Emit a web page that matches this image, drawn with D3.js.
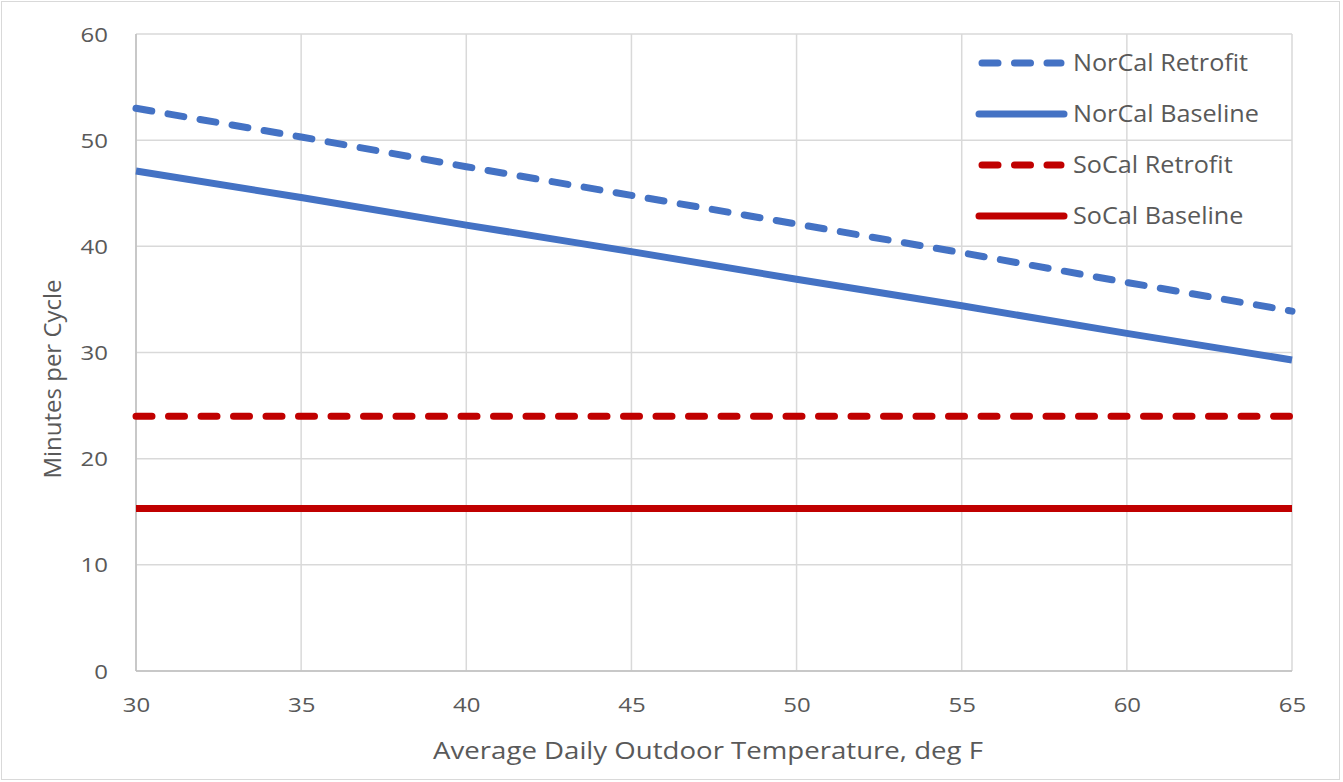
<!DOCTYPE html>
<html><head><meta charset="utf-8">
<script src="https://cdn.jsdelivr.net/npm/d3@7"></script>
<style>body{margin:0;background:#fff;}svg{display:block;font-family:"Open Sans",sans-serif;}</style>
</head><body><svg id="c" width="1343" height="782"></svg>
<script>
const temps = [30, 35, 40, 45, 50, 55, 60, 65];
const norcalRetrofit = [53.0, 50.3, 47.5, 44.8, 42.1, 39.4, 36.6, 33.9];
const norcalBaseline = [47.1, 44.6, 42.0, 39.5, 36.9, 34.4, 31.8, 29.3];
const socalRetrofit = [24.0, 24.0, 24.0, 24.0, 24.0, 24.0, 24.0, 24.0];
const socalBaseline = [15.3, 15.3, 15.3, 15.3, 15.3, 15.3, 15.3, 15.3];
const xTicks = [30, 35, 40, 45, 50, 55, 60, 65];
const yTicks = [0, 10, 20, 30, 40, 50, 60];
const seriesNames = ["NorCal Retrofit", "NorCal Baseline", "SoCal Retrofit", "SoCal Baseline"];

const series = [
  {name: seriesNames[0], values: norcalRetrofit, color: "#4472C4", dash: true},
  {name: seriesNames[1], values: norcalBaseline, color: "#4472C4", dash: false},
  {name: seriesNames[2], values: socalRetrofit, color: "#C00000", dash: true},
  {name: seriesNames[3], values: socalBaseline, color: "#C00000", dash: false}
];

const svg = d3.select("#c");
svg.append("rect").attr("x", 1.5).attr("y", 1.5).attr("width", 1338).attr("height", 778)
  .attr("fill", "#fff").attr("stroke", "#D9D9D9").attr("stroke-width", 1);

const L = 136, R = 1292, T = 34, B = 671;
const x = d3.scaleLinear().domain([30, 65]).range([L, R]);
const y = d3.scaleLinear().domain([0, 60]).range([B, T]);

// gridlines
const g = svg.append("g");
g.selectAll(".hg").data(yTicks).join("line")
  .attr("x1", L).attr("x2", R).attr("y1", d => y(d)).attr("y2", d => y(d))
  .attr("stroke", "#D9D9D9").attr("stroke-width", 1.5);
g.selectAll(".vg").data(xTicks).join("line")
  .attr("x1", d => x(d)).attr("x2", d => x(d)).attr("y1", T).attr("y2", B)
  .attr("stroke", "#D9D9D9").attr("stroke-width", 1.5);
g.append("line").attr("x1", L).attr("x2", R).attr("y1", B).attr("y2", B).attr("stroke", "#BFBFBF").attr("stroke-width", 1.5);
g.append("line").attr("x1", L).attr("x2", L).attr("y1", T).attr("y2", B).attr("stroke", "#BFBFBF").attr("stroke-width", 1.5);

const tickStretch = 1.2;
const xAxis = svg.append("g").attr("transform", `translate(0,${B})`)
  .call(d3.axisBottom(x).tickValues(xTicks).tickSize(0).tickPadding(0).tickFormat(d3.format("d")));
xAxis.select(".domain").remove();
xAxis.selectAll("text").attr("dy", null).attr("y", 0)
  .attr("transform", `translate(0,41) scale(${tickStretch},1)`).attr("fill", "#595959")
  .style("font-size", "20px").style("font-family", "Open Sans");

const yAxis = svg.append("g").attr("transform", `translate(${L},0)`)
  .call(d3.axisLeft(y).tickValues(yTicks).tickSize(0).tickPadding(0).tickFormat(d3.format("d")));
yAxis.select(".domain").remove();
yAxis.selectAll("text").attr("x", 0).attr("dy", "0.35em")
  .attr("transform", `translate(-28,0) scale(${tickStretch},1)`).attr("fill", "#595959")
  .style("font-size", "20px").style("font-family", "Open Sans");

// titles
svg.append("text").attr("transform", `translate(708,759) scale(1.15,1)`).attr("text-anchor", "middle")
  .attr("fill", "#595959").style("font-size", "24px").text("Average Daily Outdoor Temperature, deg F");
svg.append("text").attr("transform", `translate(61,379) rotate(-90)`).attr("text-anchor", "middle")
  .attr("fill", "#595959").style("font-size", "24px").text("Minutes per Cycle");

// lines
const line = d3.line().x((d, i) => x(temps[i])).y(d => y(d));
svg.append("g").selectAll("path").data(series).join("path")
  .attr("d", d => line(d.values))
  .attr("fill", "none").attr("stroke", d => d.color).attr("stroke-width", 7)
  .attr("stroke-linecap", d => d.dash ? "round" : "butt")
  .attr("stroke-dasharray", d => d.dash ? "16,16.5" : null);

// legend
const leg = svg.append("g");
series.forEach((s, i) => {
  const cy = 63 + i * 51;
  leg.append("line").attr("x1", s.dash ? 982 : 979).attr("x2", s.dash ? 1061 : 1064).attr("y1", cy).attr("y2", cy)
    .attr("stroke", s.color).attr("stroke-width", 7)
    .attr("stroke-linecap", "round")
    .attr("stroke-dasharray", s.dash ? "16,16.5" : null);
  leg.append("text").attr("transform", `translate(1073,${cy}) scale(1.05,1)`).attr("dy", "0.35em")
    .attr("fill", "#595959").style("font-size", "24px").text(s.name);
});
</script></body></html>
